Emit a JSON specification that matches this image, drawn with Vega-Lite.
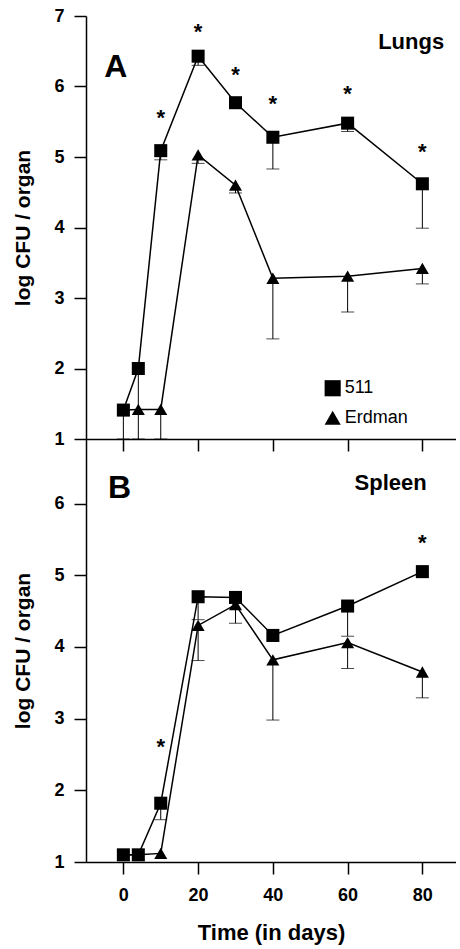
{
  "$schema": "https://vega.github.io/schema/vega-lite/v6.json",
  "padding": {"left": 12, "top": 7, "right": 0, "bottom": 2},
  "spacing": 0,
  "bounds": "flush",
  "config": {
    "view": {"stroke": null},
    "font": "Liberation Sans",
    "axis": {
      "grid": false,
      "format": "d",
      "domainColor": "black",
      "tickColor": "black",
      "domainWidth": 1.5,
      "tickWidth": 1.5,
      "tickSize": 12,
      "labelColor": "black",
      "titleColor": "black",
      "labelFont": "Liberation Sans",
      "labelFontWeight": "bold",
      "labelFontSize": 18,
      "titleFont": "Liberation Sans",
      "titleFontWeight": "bold",
      "titleFontSize": 21
    }
  },
  "datasets": {
    "lungs": [
      {"strain": "511", "day": 0, "cfu": 1.41},
      {"strain": "511", "day": 4, "cfu": 2.0},
      {"strain": "511", "day": 10, "cfu": 5.09},
      {"strain": "511", "day": 20, "cfu": 6.43},
      {"strain": "511", "day": 30, "cfu": 5.77},
      {"strain": "511", "day": 40, "cfu": 5.28},
      {"strain": "511", "day": 60, "cfu": 5.48},
      {"strain": "511", "day": 80, "cfu": 4.62},
      {"strain": "Erdman", "day": 0, "cfu": 1.41},
      {"strain": "Erdman", "day": 4, "cfu": 1.42},
      {"strain": "Erdman", "day": 10, "cfu": 1.42},
      {"strain": "Erdman", "day": 20, "cfu": 5.03},
      {"strain": "Erdman", "day": 30, "cfu": 4.6},
      {"strain": "Erdman", "day": 40, "cfu": 3.28},
      {"strain": "Erdman", "day": 60, "cfu": 3.31},
      {"strain": "Erdman", "day": 80, "cfu": 3.42}
    ],
    "lungsErr": [
      {"strain": "511", "day": 0, "mean": 1.41, "lo": 1.0},
      {"strain": "511", "day": 4, "mean": 2.0, "lo": 1.0},
      {"strain": "511", "day": 10, "mean": 5.09, "lo": 4.96},
      {"strain": "511", "day": 20, "mean": 6.43, "lo": 6.3},
      {"strain": "511", "day": 40, "mean": 5.28, "lo": 4.83},
      {"strain": "511", "day": 60, "mean": 5.48, "lo": 5.36},
      {"strain": "511", "day": 80, "mean": 4.62, "lo": 3.99},
      {"strain": "Erdman", "day": 10, "mean": 1.42, "lo": 1.0},
      {"strain": "Erdman", "day": 20, "mean": 5.03, "lo": 4.91},
      {"strain": "Erdman", "day": 30, "mean": 4.6, "lo": 4.49},
      {"strain": "Erdman", "day": 40, "mean": 3.28, "lo": 2.42},
      {"strain": "Erdman", "day": 60, "mean": 3.31, "lo": 2.8},
      {"strain": "Erdman", "day": 80, "mean": 3.42, "lo": 3.2}
    ],
    "lungsStars": [
      {"day": 10, "cfu": 5.62},
      {"day": 20, "cfu": 6.84},
      {"day": 30, "cfu": 6.23},
      {"day": 40, "cfu": 5.82},
      {"day": 60, "cfu": 5.96},
      {"day": 80, "cfu": 5.14}
    ],
    "spleen": [
      {"strain": "511", "day": 0, "cfu": 1.1},
      {"strain": "511", "day": 4, "cfu": 1.1},
      {"strain": "511", "day": 10, "cfu": 1.82},
      {"strain": "511", "day": 20, "cfu": 4.7},
      {"strain": "511", "day": 30, "cfu": 4.69},
      {"strain": "511", "day": 40, "cfu": 4.16},
      {"strain": "511", "day": 60, "cfu": 4.57},
      {"strain": "511", "day": 80, "cfu": 5.05},
      {"strain": "Erdman", "day": 0, "cfu": 1.1},
      {"strain": "Erdman", "day": 4, "cfu": 1.1},
      {"strain": "Erdman", "day": 10, "cfu": 1.12},
      {"strain": "Erdman", "day": 20, "cfu": 4.3},
      {"strain": "Erdman", "day": 30, "cfu": 4.59},
      {"strain": "Erdman", "day": 40, "cfu": 3.82},
      {"strain": "Erdman", "day": 60, "cfu": 4.06},
      {"strain": "Erdman", "day": 80, "cfu": 3.65}
    ],
    "spleenErr": [
      {"strain": "511", "day": 10, "mean": 1.82, "lo": 1.59},
      {"strain": "511", "day": 20, "mean": 4.7, "lo": 4.38},
      {"strain": "511", "day": 60, "mean": 4.57, "lo": 4.15},
      {"strain": "Erdman", "day": 20, "mean": 4.3, "lo": 3.81},
      {"strain": "Erdman", "day": 30, "mean": 4.59, "lo": 4.33},
      {"strain": "Erdman", "day": 40, "mean": 3.82, "lo": 2.98},
      {"strain": "Erdman", "day": 60, "mean": 4.06, "lo": 3.7},
      {"strain": "Erdman", "day": 80, "mean": 3.65, "lo": 3.29}
    ],
    "spleenStars": [
      {"day": 10, "cfu": 2.68},
      {"day": 80, "cfu": 5.52}
    ],
    "legend": [
      {"strain": "511", "day": 56, "cfu": 1.72},
      {"strain": "Erdman", "day": 56, "cfu": 1.3}
    ],
    "panelA": [{"label": "A", "day": -2, "cfu": 6.28}],
    "organA": [{"label": "Lungs", "day": 77, "cfu": 6.63}],
    "panelB": [{"label": "B", "day": -1, "cfu": 6.22}],
    "organB": [{"label": "Spleen", "day": 71.5, "cfu": 6.28}]
  },
  "vconcat": [
    {
      "width": 370,
      "height": 423,
      "layer": [
        {
          "data": {"name": "lungs"},
          "mark": {"type": "line", "color": "black", "strokeWidth": 1.5},
          "encoding": {
            "x": {"field": "day", "type": "quantitative", "scale": {"domain": [-10, 89], "nice": false, "zero": false}, "axis": {"values": [0, 20, 40, 60, 80], "labels": false, "title": null}},
            "y": {"field": "cfu", "type": "quantitative", "scale": {"domain": [1, 7], "nice": false, "zero": false}, "axis": {"values": [1, 2, 3, 4, 5, 6, 7], "title": "log CFU / organ", "labelPadding": 10, "titlePadding": 20}},
            "detail": {"field": "strain"}
          }
        },
        {
          "mark": {"type": "rule", "color": "black", "strokeWidth": 1.5},
          "encoding": {"y": {"datum": 7}}
        },
        {
          "data": {"name": "lungsErr"},
          "mark": {"type": "rule", "color": "black", "strokeWidth": 1},
          "encoding": {
            "x": {"field": "day", "type": "quantitative"},
            "y": {"field": "lo", "type": "quantitative"},
            "y2": {"field": "mean"}
          }
        },
        {
          "data": {"name": "lungsErr"},
          "mark": {"type": "tick", "orient": "horizontal", "color": "black", "thickness": 1, "size": 13},
          "encoding": {
            "x": {"field": "day", "type": "quantitative"},
            "y": {"field": "lo", "type": "quantitative"}
          }
        },
        {
          "data": {"name": "lungs"},
          "mark": {"type": "point", "filled": true, "color": "black", "opacity": 1, "size": 170},
          "encoding": {
            "x": {"field": "day", "type": "quantitative"},
            "y": {"field": "cfu", "type": "quantitative"},
            "shape": {"field": "strain", "type": "nominal", "scale": {"domain": ["511", "Erdman"], "range": ["square", "triangle-up"]}, "legend": null}
          }
        },
        {
          "data": {"name": "lungsStars"},
          "mark": {"type": "text", "text": "*", "fontSize": 22, "fontWeight": "bold", "color": "black", "dy": 5},
          "encoding": {
            "x": {"field": "day", "type": "quantitative"},
            "y": {"field": "cfu", "type": "quantitative"}
          }
        },
        {
          "data": {"name": "legend"},
          "mark": {"type": "point", "filled": true, "color": "black", "opacity": 1, "size": 260},
          "encoding": {
            "x": {"field": "day", "type": "quantitative"},
            "y": {"field": "cfu", "type": "quantitative"},
            "shape": {"field": "strain", "type": "nominal", "legend": null}
          }
        },
        {
          "data": {"name": "legend"},
          "mark": {"type": "text", "align": "left", "baseline": "middle", "dx": 12, "fontSize": 18, "color": "black"},
          "encoding": {
            "x": {"field": "day", "type": "quantitative"},
            "y": {"field": "cfu", "type": "quantitative"},
            "text": {"field": "strain"}
          }
        },
        {
          "data": {"name": "panelA"},
          "mark": {"type": "text", "align": "center", "baseline": "middle", "fontSize": 32, "fontWeight": "bold", "color": "black"},
          "encoding": {
            "x": {"field": "day", "type": "quantitative"},
            "y": {"field": "cfu", "type": "quantitative"},
            "text": {"field": "label"}
          }
        },
        {
          "data": {"name": "organA"},
          "mark": {"type": "text", "align": "center", "baseline": "middle", "fontSize": 22, "fontWeight": "bold", "color": "black"},
          "encoding": {
            "x": {"field": "day", "type": "quantitative"},
            "y": {"field": "cfu", "type": "quantitative"},
            "text": {"field": "label"}
          }
        }
      ]
    },
    {
      "width": 370,
      "height": 423,
      "layer": [
        {
          "data": {"name": "spleen"},
          "mark": {"type": "line", "color": "black", "strokeWidth": 1.5},
          "encoding": {
            "x": {"field": "day", "type": "quantitative", "scale": {"domain": [-10, 89], "nice": false, "zero": false}, "axis": {"values": [0, 20, 40, 60, 80], "title": "Time (in days)", "titleFontSize": 22, "labelPadding": 12, "titlePadding": 18}},
            "y": {"field": "cfu", "type": "quantitative", "scale": {"domain": [1, 6.9], "nice": false, "zero": false}, "axis": {"values": [1, 2, 3, 4, 5, 6], "title": "log CFU / organ", "labelPadding": 10, "titlePadding": 20}},
            "detail": {"field": "strain"}
          }
        },
        {
          "data": {"name": "spleenErr"},
          "mark": {"type": "rule", "color": "black", "strokeWidth": 1},
          "encoding": {
            "x": {"field": "day", "type": "quantitative"},
            "y": {"field": "lo", "type": "quantitative"},
            "y2": {"field": "mean"}
          }
        },
        {
          "data": {"name": "spleenErr"},
          "mark": {"type": "tick", "orient": "horizontal", "color": "black", "thickness": 1, "size": 13},
          "encoding": {
            "x": {"field": "day", "type": "quantitative"},
            "y": {"field": "lo", "type": "quantitative"}
          }
        },
        {
          "data": {"name": "spleen"},
          "mark": {"type": "point", "filled": true, "color": "black", "opacity": 1, "size": 170},
          "encoding": {
            "x": {"field": "day", "type": "quantitative"},
            "y": {"field": "cfu", "type": "quantitative"},
            "shape": {"field": "strain", "type": "nominal", "legend": null}
          }
        },
        {
          "data": {"name": "spleenStars"},
          "mark": {"type": "text", "text": "*", "fontSize": 22, "fontWeight": "bold", "color": "black", "dy": 5},
          "encoding": {
            "x": {"field": "day", "type": "quantitative"},
            "y": {"field": "cfu", "type": "quantitative"}
          }
        },
        {
          "data": {"name": "panelB"},
          "mark": {"type": "text", "align": "center", "baseline": "middle", "fontSize": 32, "fontWeight": "bold", "color": "black"},
          "encoding": {
            "x": {"field": "day", "type": "quantitative"},
            "y": {"field": "cfu", "type": "quantitative"},
            "text": {"field": "label"}
          }
        },
        {
          "data": {"name": "organB"},
          "mark": {"type": "text", "align": "center", "baseline": "middle", "fontSize": 22, "fontWeight": "bold", "color": "black"},
          "encoding": {
            "x": {"field": "day", "type": "quantitative"},
            "y": {"field": "cfu", "type": "quantitative"},
            "text": {"field": "label"}
          }
        }
      ]
    }
  ]
}
